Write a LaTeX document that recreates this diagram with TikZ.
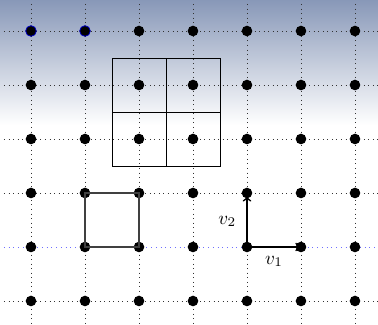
\documentclass[tikz,border=0pt]{standalone}
\usetikzlibrary{arrows.meta}
\definecolor{topshade}{RGB}{136,152,184}
\definecolor{lineblue}{RGB}{110,110,255}
\begin{document}
\begin{tikzpicture}[
  dot/.style={circle,fill=black,inner sep=0pt,minimum size=5.6pt},
  bluedot/.style={dot,draw=blue!80!black,line width=0.4pt},
  gridline/.style={dotted,black!80},
  blueline/.style={dotted,lineblue,line width=0.5pt},
  cellbox/.style={draw=black,line width=0.5pt},
  cellbox2/.style={draw=black!75,line width=0.8pt},
  vec/.style={-{To[length=3pt,width=4.5pt]},line width=0.7pt}
]
\useasboundingbox (-0.574,-0.444) rectangle (6.426,5.574);
\clip (-0.574,-0.444) rectangle (6.426,5.574);
\shade[top color=topshade,bottom color=white] (-0.574,3.26) rectangle (6.426,5.574);
% dotted grid
\foreach \i in {0,...,6} \draw[gridline] (\i,5.5) -- (\i,-0.6);
\foreach \j in {0,2,3,4,5} \draw[gridline] (-0.5,\j) -- (6.6,\j);
\draw[blueline] (-0.5,1) -- (6.6,1);
% 2x2 cells
\draw[cellbox] (1.5,2.5) rectangle (3.5,4.5);
\draw[cellbox] (2.5,2.5) -- (2.5,4.5);
\draw[cellbox] (1.5,3.5) -- (3.5,3.5);
% dots
\foreach \i in {0,...,6} \foreach \j in {0,...,5} {
  \node[dot] (d-\i-\j) at (\i,\j) {};
}
\node[bluedot] (b-0-5) at (0,5) {};
\node[bluedot] (b-1-5) at (1,5) {};
% square
\draw[cellbox2] (d-1-1.center) -- (d-2-1.center) -- (d-2-2.center) -- (d-1-2.center) -- cycle;
% vectors
\draw[vec] (d-4-1.center) -- (d-5-1.center) node[midway,below=1pt] (l1) {$v_1$};
\draw[vec] (d-4-1.center) -- ([yshift=-1.5pt]d-4-2.center) node[midway,left=2pt] (l2) {$v_2$};
\end{tikzpicture}
\end{document}
